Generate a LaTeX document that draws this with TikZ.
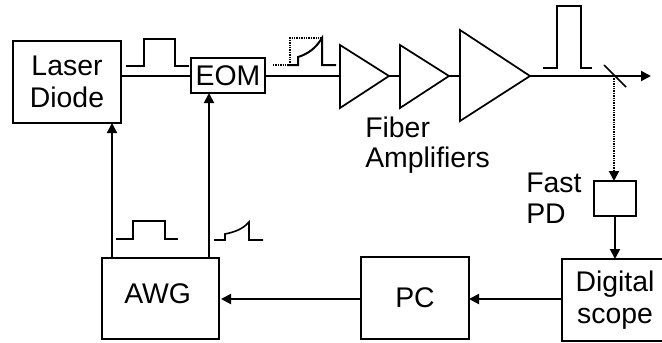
\documentclass[tikz,border=0pt]{standalone}
\usepackage{fontspec}
\setmainfont{Liberation Sans}
\usetikzlibrary{arrows.meta}
\tikzset{
  x=0.75pt,y=-0.75pt,
  ln/.style={line width=1.5pt,draw=black,line join=miter},
  box/.style={ln,draw,anchor=north west,inner sep=0pt,outer sep=0pt,align=center,font=\fontsize{21.3}{23.6}\selectfont},
  amp/.style={line width=1.3pt,draw=black},
  sig/.style={line width=1.5pt},
  tip/.style={-{Triangle[length=7.5pt,width=7.5pt]}},
  dots/.style={line width=1.5pt,dash pattern=on 1.1pt off 0.7pt},
  lab/.style={anchor=base west,inner sep=0pt,align=left,font=\fontsize{21.3}{23.6}\selectfont}
}
\newcommand{\bx}[6]{\node[box,minimum width=#4*0.75pt-#2*0.75pt,minimum height=#5*0.75pt-#3*0.75pt] (#1) at (#2,#3) {#6};}
\begin{document}
\begin{tikzpicture}
\useasboundingbox (0,0) rectangle (662,343);
\clip (0,0) rectangle (662,343);
\bx{laser}{13}{41}{121}{123}{Laser\\Diode}
\bx{eom}{191}{58}{265}{93}{EOM}
\bx{pd}{594}{181}{636}{216}{}
\bx{scope}{562}{259}{668}{341}{Digital\\scope}
\bx{pc}{361}{257}{469}{339}{PC}
\bx{awg}{102}{258}{219}{339}{}
\node[lab] (awgtext) at (124,303) {AWG};
% amplifiers
\coordinate (a1l) at (340,76); \coordinate (a1r) at (389,76);
\coordinate (a2l) at (400,76); \coordinate (a2r) at (449,76);
\coordinate (a3l) at (460,76); \coordinate (a3r) at (530,76);
\draw[amp] (340,45) -- (389,76) -- (340,108) -- cycle;
\draw[amp] (400,45) -- (449,76) -- (400,108) -- cycle;
\draw[amp] (460,30) -- (530,76) -- (460,121) -- cycle;
% beam
\coordinate (m) at (614,76);
\coordinate (out) at (651,76);
\draw[sig] (laser.east |- 0,76) -- (eom.west |- 0,76);
\draw[sig] (eom.east |- 0,76) -- (a1l);
\draw[sig] (a1r) -- (a2l);
\draw[sig] (a2r) -- (a3l);
\draw[sig,tip] (a3r) -- (out);
\draw[line width=1.2pt] (604,65) -- (626,87);
\draw[dots,tip] (m) -- (pd.north -| m);
\draw[sig,tip] (pd.south) -- (pd.south |- scope.north);
\draw[sig,tip] (scope.west |- 0,299) -- (pc.east |- 0,299);
\draw[sig,tip] (pc.west |- 0,299) -- (221,299);
\draw[sig,tip] (112,258) -- (112,123);
\draw[sig,tip] (209,258) -- (209,93);
% pulses
\draw[sig] (126,66) -- (144,66) -- (144,39) -- (175,39) -- (175,66) -- (189,66);
\draw[dots] (273,65) -- (290,65) -- (290,38) -- (322,38);
\draw[sig] (287,65) -- (298,65) -- (298,57) .. controls (308,54) and (316,48) .. (322,38) -- (322,65) -- (336,65);
\draw[sig] (543,68) -- (557,68) -- (557,6) -- (581,6) -- (581,68) -- (592,68);
\draw[sig] (116,239) -- (133,239) -- (133,221) -- (165,221) -- (165,239) -- (178,239);
\draw[line width=1.2pt] (214,240) -- (225,240) -- (225,234) .. controls (235,232) and (243,229) .. (249,222) -- (249,240) -- (263,240);
% labels
\node[lab] (fa) at (365,137) {Fiber};
\node[lab] (fb) at (365,167) {Amplifiers};
\node[lab] (pa) at (526,192) {Fast};
\node[lab] (pb) at (526,223) {PD};
\end{tikzpicture}
\end{document}
